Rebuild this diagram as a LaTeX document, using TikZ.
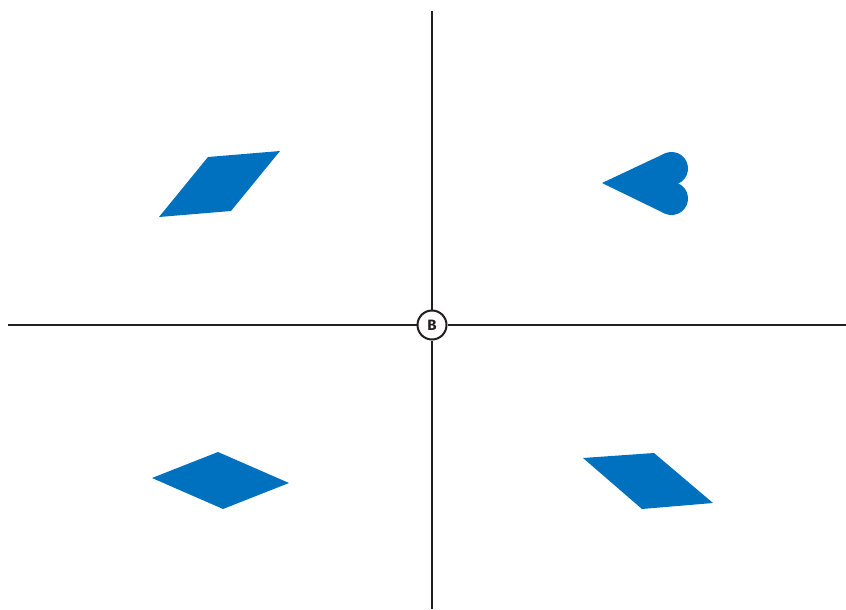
\documentclass[tikz,border=0pt]{standalone}
\usepackage{fontspec}
\setmainfont{Fira Sans}
\definecolor{shapeblue}{RGB}{0,113,190}
\definecolor{axisgray}{RGB}{35,31,32}
\begin{document}
\begin{tikzpicture}[x=1pt,y=-1pt,
  axis/.style={draw=axisgray,line width=2pt},
  origin/.style={circle,draw=axisgray,line width=2pt,fill=white,minimum size=29pt,inner sep=0pt,font=\fontsize{15}{15}\selectfont\bfseries,text=axisgray},
  blueshape/.style={fill=shapeblue}]
\useasboundingbox (0,0) rectangle (846,610);
\node[origin] (B) at (432,325) {B};
\coordinate (top) at (432,11);
\coordinate (bottom) at (432,609);
\coordinate (left) at (8,325);
\coordinate (right) at (846,325);
\draw[axis] (top) -- (B);
\draw[axis] (B) -- (bottom);
\draw[axis] (left) -- (B);
\draw[axis] (B) -- (right);
% top-left parallelogram
\fill[blueshape] (208,157) -- (280,151) -- (231,211) -- (159,217) -- cycle;
% bottom-left rhombus
\fill[blueshape] (152,478) -- (218,452) -- (289,483) -- (223,509) -- cycle;
% bottom-right parallelogram
\fill[blueshape] (583,458) -- (654,453) -- (713,503) -- (642,509) -- cycle;
% heart pointing left
\fill[blueshape] (602,183) -- (664.5,153.6) -- (671.5,168.5) -- (671.5,198.5) -- (664.5,213.4) -- cycle;
\fill[blueshape] (671.5,168.5) circle[radius=16.5];
\fill[blueshape] (671.5,198.5) circle[radius=16.5];
\end{tikzpicture}
\end{document}
